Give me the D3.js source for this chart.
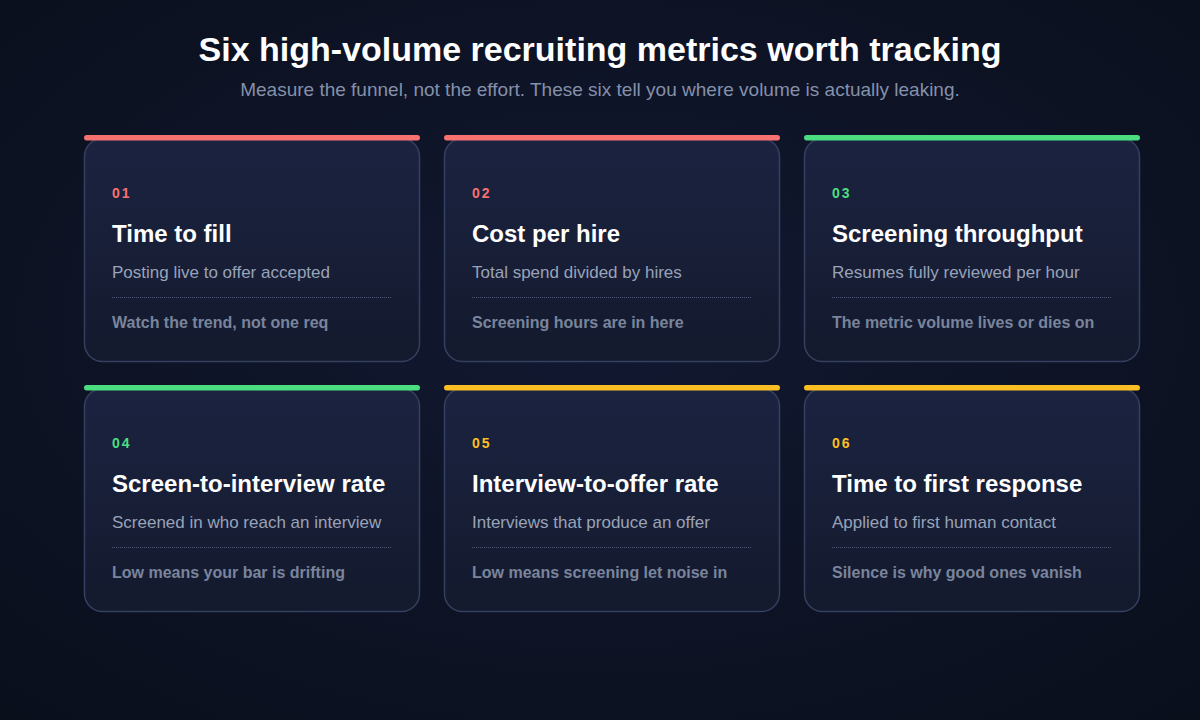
<html>
<head>
  <script src="https://d3js.org/d3.v7.min.js"></script>
  <style>
    body { margin: 0; background: #0d1221; }
  </style>
</head>
<body>
  <svg id="chart" width="1200" height="720"></svg>
  <script>
    const heading = "Six high-volume recruiting metrics worth tracking";
    const subheading = "Measure the funnel, not the effort. These six tell you where volume is actually leaking.";

    const nums = ["01", "02", "03", "04", "05", "06"];
    const titles = ["Time to fill", "Cost per hire", "Screening throughput",
      "Screen-to-interview rate", "Interview-to-offer rate", "Time to first response"];
    const descs = ["Posting live to offer accepted", "Total spend divided by hires",
      "Resumes fully reviewed per hour", "Screened in who reach an interview",
      "Interviews that produce an offer", "Applied to first human contact"];
    const notes = ["Watch the trend, not one req", "Screening hours are in here",
      "The metric volume lives or dies on", "Low means your bar is drifting",
      "Low means screening let noise in", "Silence is why good ones vanish"];
    const tones = ["red", "red", "green", "green", "amber", "amber"];

    const svg = d3.select("svg#chart");
    const width = +svg.attr("width");
    const height = +svg.attr("height");
    const font = "'Liberation Sans', Arial, sans-serif";

    const defs = svg.append("defs");
    const bg = defs.append("radialGradient").attr("id", "bg")
      .attr("cx", "50%").attr("cy", "45%").attr("r", "75%");
    bg.append("stop").attr("offset", "0%").attr("stop-color", "#121830");
    bg.append("stop").attr("offset", "100%").attr("stop-color", "#0a0f1c");

    const cardFill = defs.append("linearGradient").attr("id", "card")
      .attr("x1", 0).attr("y1", 0).attr("x2", 0).attr("y2", 1);
    cardFill.append("stop").attr("offset", "0%").attr("stop-color", "#1c2341");
    cardFill.append("stop").attr("offset", "100%").attr("stop-color", "#131a2d");

    svg.append("rect").attr("width", width).attr("height", height).attr("fill", "url(#bg)");

    svg.append("text")
      .attr("x", width / 2).attr("y", 61)
      .attr("text-anchor", "middle")
      .style("font-family", font)
      .style("font-size", "34px").style("font-weight", "bold")
      .attr("fill", "#ffffff")
      .text(heading);

    svg.append("text")
      .attr("x", width / 2).attr("y", 96)
      .attr("text-anchor", "middle")
      .style("font-family", font)
      .style("font-size", "19px")
      .attr("fill", "#8590aa")
      .text(subheading);

    const colorScale = d3.scaleOrdinal()
      .domain(["red", "green", "amber"])
      .range(["#f87171", "#4ade80", "#fbbf24"]);

    const colScale = d3.scaleBand().domain([0, 1, 2]).range([84, 1140]).paddingInner(24 / 360);
    const rowScale = d3.scaleBand().domain([0, 1]).range([138, 612]).paddingInner(26 / 250);

    const cards = svg.selectAll("g.card")
      .data(nums.map((n, i) => i))
      .join("g")
      .attr("class", "card")
      .attr("transform", i => `translate(${colScale(i % 3)},${rowScale(Math.floor(i / 3))})`);

    const cw = colScale.bandwidth();
    const ch = rowScale.bandwidth();

    cards.append("rect")
      .attr("x", 0.5).attr("y", 0.5)
      .attr("width", cw - 1).attr("height", ch - 1)
      .attr("rx", 18)
      .attr("fill", "url(#card)")
      .attr("stroke", "#34405f")
      .attr("stroke-width", 1.5);

    cards.append("rect")
      .attr("x", 0).attr("y", -3)
      .attr("width", cw).attr("height", 5.5)
      .attr("rx", 2.75)
      .attr("fill", i => colorScale(tones[i]));

    cards.append("text")
      .attr("x", 28).attr("y", 60)
      .style("font-family", font)
      .style("font-size", "14px").style("font-weight", "bold")
      .style("letter-spacing", "2px")
      .attr("fill", i => colorScale(tones[i]))
      .text(i => nums[i]);

    cards.append("text")
      .attr("x", 28).attr("y", 104)
      .style("font-family", font)
      .style("font-size", "24px").style("font-weight", "bold")
      .attr("fill", "#ffffff")
      .text(i => titles[i]);

    cards.append("text")
      .attr("x", 28).attr("y", 140)
      .style("font-family", font)
      .style("font-size", "17px")
      .attr("fill", "#99a3b8")
      .text(i => descs[i]);

    cards.append("line")
      .attr("x1", 28).attr("x2", cw - 28)
      .attr("y1", 159.5).attr("y2", 159.5)
      .attr("stroke", "#4a5572")
      .attr("stroke-width", 1)
      .attr("stroke-dasharray", "1,1");

    cards.append("text")
      .attr("x", 28).attr("y", 190)
      .style("font-family", font)
      .style("font-size", "16px").style("font-weight", "bold")
      .attr("fill", "#7a849c")
      .text(i => notes[i]);
  </script>
</body>
</html>
